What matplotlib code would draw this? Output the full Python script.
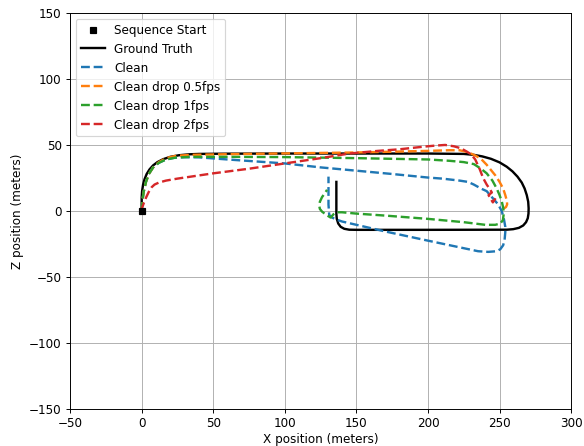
import matplotlib
matplotlib.use('Agg')
import matplotlib.pyplot as plt

# trajectories in the X-Z plane (meters)
gt_x = [0, 0, 0, 0.3, 1, 2, 3.5, 5.5, 8, 11, 15, 20, 26, 33, 40, 60, 100, 150, 200,
        225, 232, 238, 244, 250, 255, 259, 262.5, 265.5, 267.5, 269, 270, 270.3,
        270.2, 269.7, 268.5, 266.5, 263.5, 259.5, 255, 200, 150, 145, 141.5, 139,
        137.3, 136.3, 136, 136, 136, 136]
gt_z = [0, 5, 10, 15, 20, 24, 28, 31.5, 34.5, 37, 39.2, 41, 42.2, 42.9, 43.2, 43.4,
        43.5, 43.5, 43.5, 43.2, 42.5, 41.3, 39.5, 36.8, 33.5, 30, 26, 21.5, 17, 12,
        7, 2, -2, -5.5, -8.5, -11, -12.8, -13.8, -14.2, -14.3, -14.3, -14.2, -13.5,
        -12, -9.5, -6, -2, 5, 15, 22]

clean_x = [0, 0.5, 1.5, 3, 5, 8, 12, 17, 23, 30, 40, 60, 80, 100, 125, 150, 175, 200,
           210, 222, 228, 232, 237, 241, 245, 249, 251.5, 253, 254, 254, 253.5, 252.5,
           250.5, 248, 242, 235, 200, 170, 150, 140, 136, 133, 131, 130.5, 130.5, 130.5]
clean_z = [0, 8, 15, 22, 28, 33, 36.5, 39, 40.3, 40.7, 40.6, 39, 37.5, 36, 33, 30.5,
           28, 25.3, 24.5, 23, 22, 20, 17, 15, 10, 5, 0, -6, -12, -16, -22, -26, -29,
           -30.5, -31, -30.5, -22.5, -15.5, -10.5, -8, -6.5, -5, -3, 5, 15, 26]

d05_x = [0, 0.5, 1.5, 3, 5, 8, 12, 17, 24, 35, 60, 100, 150, 200, 215, 222, 228, 233,
         237, 241, 244, 247, 250, 252.5, 254, 255, 255.3, 254.5, 252.5]
d05_z = [0, 8, 15, 22, 28, 33, 37, 40, 41.8, 42.5, 43, 43.6, 44.3, 45.5, 46, 46, 44.5,
         42, 39.5, 35, 31, 27, 22, 17, 12, 8, 5, 3, 1.5]

d1_x = [0, 0.5, 1.5, 3, 5, 8, 12, 17, 24, 35, 60, 100, 150, 200, 215, 225, 232, 237,
        241, 245, 248, 250, 251.6, 252.6, 252.8, 252.3, 250.5, 247, 240, 225, 200,
        170, 150, 140, 136, 134, 132, 129, 126, 124.5, 124, 124.5, 126, 128, 129.5]
d1_z = [0, 8, 15, 22, 28, 33, 36.5, 39, 40.5, 41, 41, 40.8, 40, 39, 38, 37, 35.5, 32,
        28.5, 23, 17, 12, 7, 2, -3, -7, -9.5, -10.5, -10.5, -8.5, -6, -3.5, -2, -1,
        -1, -2.5, -5, -3, -0.5, 1.5, 4, 7, 10.5, 13.5, 16]

d2_x = [0, 0.5, 1.5, 3, 5, 7, 9, 12, 17, 25, 50, 75, 100, 125, 145, 165, 180, 197,
        205, 212, 218, 223, 227, 230, 233, 236, 238.5, 241, 243.5, 244.6, 242.3,
        245.3, 247.2]
d2_z = [0, 3, 6, 10, 14.5, 18, 20, 21.5, 23, 24.5, 28.5, 32, 36, 40, 43.5, 45.5, 46.7,
        48.7, 49.5, 50, 49, 47.5, 45, 43, 39, 32, 25, 20, 16, 14, 12, 6.5, 9.6]

start_x = [0]
start_z = [0]

fig = plt.figure(figsize=(584 / 86, 446 / 86), dpi=86)
ax = fig.add_subplot(111)

ax.plot(start_x, start_z, 'ks', markersize=5.5, linestyle='None', label='Sequence Start', zorder=5)
ax.plot(gt_x, gt_z, color='black', linewidth=2, label='Ground Truth')
ax.plot(clean_x, clean_z, color='tab:blue', linewidth=2, linestyle='--', label='Clean')
ax.plot(d05_x, d05_z, color='tab:orange', linewidth=2, linestyle='--', label='Clean drop 0.5fps')
ax.plot(d1_x, d1_z, color='tab:green', linewidth=2, linestyle='--', label='Clean drop 1fps')
ax.plot(d2_x, d2_z, color='tab:red', linewidth=2, linestyle='--', label='Clean drop 2fps')

ax.set_xlim(-50, 300)
ax.set_ylim(-150, 150)
ax.set_xlabel('X position (meters)', labelpad=2.5)
ax.set_ylabel('Z position (meters)')
ax.grid(True)
ax.legend(loc='upper left')

plt.subplots_adjust(left=0.12, right=0.978, top=0.971, bottom=0.083)
plt.savefig('out.png', dpi=86)
